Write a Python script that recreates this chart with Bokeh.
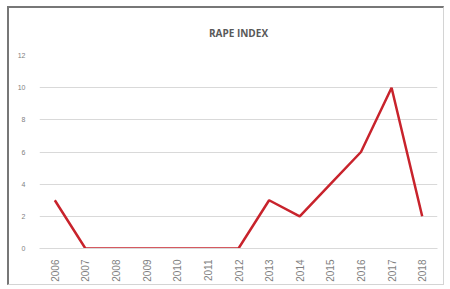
from bokeh.plotting import figure
from bokeh.embed import file_html
from bokeh.resources import INLINE
from bokeh.models import FixedTicker, Title, InlineStyleSheet
import math

years = ["2006", "2007", "2008", "2009", "2010", "2011", "2012",
         "2013", "2014", "2015", "2016", "2017", "2018"]
values = [3, 0, 0, 0, 0, 0, 0, 3, 2, 4, 6, 10, 2]
y_ticks = [0, 2, 4, 6, 8, 10, 12]
title_text = "RAPE INDEX"

p = figure(width=437, height=279, x_range=years, y_range=(0, 12),
           output_backend="svg", toolbar_location=None,
           min_border_left=30, min_border_right=9, min_border_top=45,
           min_border_bottom=39)
p.stylesheets = [InlineStyleSheet(css=":host { margin-left: 7px; margin-top: 6px; border-left: 2px solid #777777; border-top: 2px solid #777777; border-right: 1px solid #d4d4d4; border-bottom: 1px solid #d4d4d4; }")]
p.outline_line_color = None
p.background_fill_color = "white"

p.title = Title(text=title_text, align="center", text_font="Open Sans",
                text_font_size="10px", text_color="#595959", text_font_style="bold",
                offset=0, standoff=31)

p.line(x=years, y=values, line_color="#c8232c", line_width=2.5)

p.yaxis.ticker = FixedTicker(ticks=y_ticks)
p.yaxis.axis_line_color = None
p.yaxis.major_tick_line_color = None
p.yaxis.minor_tick_line_color = None
p.yaxis.major_label_text_font_size = "7px"
p.yaxis.major_label_text_color = "#7f7f7f"
p.yaxis.major_label_standoff = 8

p.xaxis.axis_line_color = "#d9d9d9"
p.xaxis.major_tick_line_color = None
p.xaxis.major_label_orientation = math.pi / 2
p.xaxis.major_label_text_font_size = "10px"
p.xaxis.major_label_text_color = "#7f7f7f"
p.xaxis.major_label_standoff = 5

p.xgrid.grid_line_color = None
p.ygrid.grid_line_color = "#d9d9d9"
p.ygrid.grid_line_width = 1

open("out.html", "w").write(file_html(p, INLINE))
